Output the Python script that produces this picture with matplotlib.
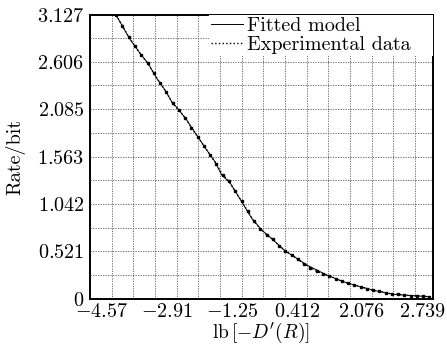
import numpy as np
import matplotlib
matplotlib.use('Agg')
import matplotlib.pyplot as plt
import matplotlib.transforms as mtransforms

plt.rcParams['font.family'] = 'cmr10'
plt.rcParams['mathtext.fontset'] = 'cm'
plt.rcParams['axes.unicode_minus'] = False

# fitted model
fit_x = [-3.906, -3.760, -3.549, -3.293, -3.089, -2.867, -2.655, -2.484, -2.297,
         -2.101, -1.845, -1.590, -1.378, -1.207, -0.995, -0.696, -0.441, -0.185,
         0.111, 0.410, 0.709, 0.964, 1.475, 1.899, 2.325, 2.752, 3.176, 3.686, 4.113]
fit_y = [3.121, 3.012, 2.854, 2.700, 2.590, 2.425, 2.296, 2.167, 2.076,
         1.966, 1.800, 1.635, 1.506, 1.360, 1.275, 1.066, 0.883, 0.754,
         0.644, 0.526, 0.443, 0.369, 0.259, 0.185, 0.130, 0.083, 0.046, 0.031, 0.020]

# experimental data points
exp_x = [-3.90, -3.74, -3.58, -3.42, -3.26, -3.10, -2.94, -2.78, -2.62, -2.46,
         -2.30, -2.14, -1.98, -1.82, -1.66, -1.50, -1.34, -1.18, -1.02, -0.86,
         -0.70, -0.54, -0.38, -0.22, -0.06, 0.10, 0.26, 0.42, 0.58, 0.74,
         0.90, 1.06, 1.22, 1.38, 1.54, 1.70, 1.86, 2.02, 2.18, 2.34,
         2.50, 2.66, 2.82, 2.98, 3.14, 3.30, 3.46, 3.62, 3.78, 3.94, 4.10]
exp_y = [3.12, 3.00, 2.88, 2.78, 2.68, 2.59, 2.48, 2.37, 2.27, 2.15,
         2.07, 1.99, 1.88, 1.78, 1.68, 1.58, 1.48, 1.36, 1.29, 1.18,
         1.07, 0.96, 0.85, 0.77, 0.70, 0.65, 0.58, 0.52, 0.48, 0.43,
         0.38, 0.34, 0.30, 0.27, 0.25, 0.22, 0.19, 0.17, 0.15, 0.13,
         0.11, 0.09, 0.08, 0.065, 0.05, 0.045, 0.04, 0.03, 0.03, 0.025, 0.02]

xtick_labels = ['-4.57', '-2.91', '-1.25', '0.412', '2.076', '2.739']
ytick_labels = ['0', '0.521', '1.042', '1.563', '2.085', '2.606', '3.127']

x0, dx = -4.57, 1.66
xmax = x0 + 342.7 / 65 * dx
ymax = 3.127

fig = plt.figure(figsize=(4.47, 3.45), dpi=100)
ax = fig.add_axes([90 / 447, 46.5 / 345, 342.7 / 447, 284 / 345])

ax.plot(fit_x, fit_y, '-', color='black', lw=0.7, label='Fitted model')
ax.plot(exp_x, exp_y, ':', color='black', lw=1.0, label='Experimental data   ')
ax.plot(exp_x, exp_y, 's', color='black', ms=1.6, lw=0)

ax.set_xlim(x0, xmax)
ax.set_ylim(0, ymax)

xt = [x0 + dx * k for k in range(6)]
ax.set_xticks(xt)
ax.set_xticklabels(['$' + s + '$' for s in xtick_labels])
ax.set_xticks([x0 + dx / 3 * k for k in range(16)], minor=True)
yt = [ymax / 6 * k for k in range(7)]
ax.set_yticks(yt)
ax.set_yticklabels(['$' + s + '$' for s in ytick_labels])
ax.set_yticks([ymax / 12 * k for k in range(13)], minor=True)

ax.tick_params(which='both', length=0, labelsize=14.5)
ax.tick_params(axis='x', pad=3)
ax.tick_params(axis='y', pad=4)
labs = ax.get_xticklabels()
for i, lab in enumerate(labs):
    shift = 0.12 if i < len(labs) - 1 else 0.075
    offset = mtransforms.ScaledTranslation(shift, 0, fig.dpi_scale_trans)
    lab.set_transform(lab.get_transform() + offset)

ax.grid(which='both', ls=(0, (1.5, 1.5)), color='0.35', lw=0.6)
for s in ax.spines.values():
    s.set_linewidth(1.4)

ax.set_ylabel('Rate/bit', fontsize=14.5, labelpad=8)
ax.set_xlabel(r'$\mathrm{lb}\,[-D^{\prime}(R)]$', fontsize=14, labelpad=0)

leg = ax.legend(loc='upper right', fontsize=14.5, frameon=True, fancybox=False,
                edgecolor='none', facecolor='white', framealpha=1,
                borderaxespad=0, handlelength=1.6, handletextpad=0.2,
                borderpad=0.1, labelspacing=0.05)

fig.savefig('out.png', dpi=100)
